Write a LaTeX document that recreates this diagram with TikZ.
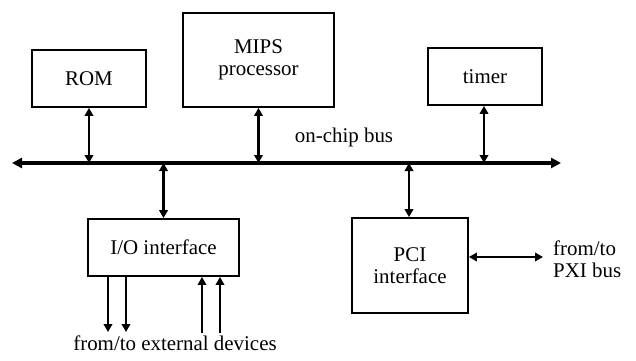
\documentclass[tikz,border=0pt]{standalone}
\usepackage{fontspec}
\setmainfont{Liberation Serif}
\usetikzlibrary{arrows.meta}
\begin{document}
\begin{tikzpicture}[x=1bp,y=-1bp,
  box/.style={draw, line width=1.8bp, inner sep=0pt, align=center,
    font=\fontsize{21}{22}\selectfont},
  lbl/.style={inner sep=0pt, font=\fontsize{21}{22}\selectfont},
  dbl/.style={line width=2.6bp, {Triangle[length=8bp,width=8.5bp]}-{Triangle[length=8bp,width=8.5bp]}},
  one/.style={line width=2.6bp, -{Triangle[length=8bp,width=8.5bp]}},
  busline/.style={line width=3.8bp, {Triangle[length=10bp,width=10bp]}-{Triangle[length=10bp,width=10bp]}}]
\useasboundingbox (0,0) rectangle (636,360);

% functional blocks
\node[box, minimum width=114bp, minimum height=57bp] (rom) at (89,78.5) {ROM};
\node[box, minimum width=151bp, minimum height=94bp] (mips) at (258.5,60) {MIPS\\processor};
\node[box, minimum width=114bp, minimum height=57bp] (timer) at (485,76.5) {timer};
\node[box, minimum width=151bp, minimum height=57bp] (io) at (163.5,247.5) {I/O interface};
\node[box, minimum width=116bp, minimum height=95bp] (pci) at (410,265.5) {PCI\\interface};

% on-chip bus
\coordinate (busL) at (12,163);
\coordinate (busR) at (561,163);
\draw[busline] (busL) -- (busR);
\node[lbl] (buslbl) at (344,137) {on-chip bus};

% block-to-bus links
\draw[dbl] (rom.south) -- (rom.south |- busL);
\draw[dbl] (mips.south) -- (mips.south |- busL);
\draw[dbl] ([xshift=-1bp]timer.south) -- ([xshift=-1bp]timer.south |- busL);
\draw[dbl] (io.north) -- (io.north |- busL);
\draw[dbl] ([xshift=-1bp]pci.north) -- ([xshift=-1bp]pci.north |- busL);

% PXI link
\coordinate (pxi) at (543,257);
\draw[dbl] (pci.east |- pxi) -- (pxi);
\node[lbl, anchor=west, align=left] (pxilbl) at (553,259) {from/to\\PXI bus};

% external device lines
\coordinate (e1) at (108,332);
\coordinate (e2) at (126,332);
\coordinate (e3) at (202,333);
\coordinate (e4) at (220,333);
\draw[one] (e1 |- io.south) -- (e1);
\draw[one] (e2 |- io.south) -- (e2);
\draw[one] (e3) -- (e3 |- io.south);
\draw[one] (e4) -- (e4 |- io.south);
\node[lbl] (extlbl) at (175,343) {from/to external devices};
\end{tikzpicture}
\end{document}
